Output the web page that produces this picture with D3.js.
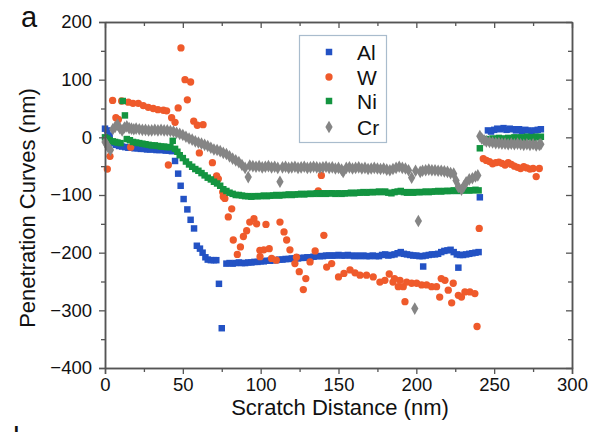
<!DOCTYPE html>
<html><head><meta charset="utf-8">
<script src="https://cdn.jsdelivr.net/npm/d3@7"></script>
<style>
body{margin:0;background:#fff;}
svg{font-family:"Liberation Sans",Arial,Helvetica,sans-serif;}
</style></head>
<body>
<svg id="chart" width="600" height="432"></svg>
<script>
// ---------- data ----------
const xTicks = [0, 50, 100, 150, 200, 250, 300];
const xMinor = [25, 75, 125, 175, 225, 275];
const yTicks = [-400, -300, -200, -100, 0, 100, 200];
const yMinor = [-350, -250, -150, -50, 50, 150];
const seriesNames = ["Al", "W", "Ni", "Cr"];

const alData = [[0,15],[1.5,12],[3,3],[5,-10],[7,-13],[9,-15],[11,-16],[13,-17],[15,-18],[17,-18],[19,-19],[21,-19],[23,-20],[25,-20],[27,-21],[29,-21],[31,-21],[33,-22],[35,-22],[37,-22],[39,-23],[41,-23],[43,-24],[45,-41],[47,-63],[48.6,-84],[50.5,-107],[52.9,-125],[55,-143],[57.2,-158],[59,-188],[61,-193],[62.7,-200],[64.5,-208],[66,-212],[68,-213],[70,-213],[71.5,-213],[73.2,-254],[75,-331],[78,-219],[80,-218],[82,-219],[84,-218],[86,-217],[88,-218],[90,-218],[92,-217],[94,-217],[96,-216],[98,-216],[100,-215],[102,-215],[104,-214],[106,-214],[108,-213],[110,-213],[112,-212],[114,-212],[116,-211],[118,-211],[120,-210],[122,-210],[124,-210],[126,-209],[128,-209],[130,-208],[132,-208],[134,-207],[136,-206],[138,-206],[140,-206],[142,-205],[144,-205],[146,-205],[148,-205],[150,-204],[152,-205],[154,-205],[156,-204],[158,-205],[160,-206],[162,-205],[164,-206],[166,-205],[168,-206],[170,-206],[172,-205],[174,-206],[176,-206],[178,-204],[180,-203],[182,-205],[184,-204],[186,-203],[188,-201],[190,-199],[192,-202],[194,-203],[196,-204],[198,-205],[200,-205],[202,-206],[204,-206],[204.4,-224],[206,-205],[208,-204],[210,-203],[212,-203],[214,-202],[216,-199],[218,-197],[220,-196],[222,-195],[224,-199],[226,-203],[227,-226],[228,-204],[230,-204],[232,-203],[234,-202],[236,-201],[238,-200],[240,-199],[240.8,-104],[246,12],[248,10],[250,13],[252,15],[254,14],[256,16],[258,13],[260,15],[262,14],[264,12],[266,14],[268,11],[270,13],[272,12],[274,10],[276,12],[278,13],[280,14]];

const wData = [[1.5,-55],[3.2,-33],[4.9,64],[7,34],[8.6,31],[10.7,63],[15,61],[16.5,-17],[18,59],[21.4,59],[24.6,55],[27.8,52],[31,50],[34,48],[37.5,47],[39.6,46],[40.7,-48],[42.8,34],[45,26],[47,51],[48.8,155],[51.4,100],[52.9,65],[55,96],[57,28],[59.3,21],[60.6,-27],[63,22],[69,-44],[71.7,-67],[72.8,-72],[75.6,-95],[76,-103],[77,-106],[79.2,-138],[81.4,-124],[82.4,-178],[85,-203],[87,-190],[88.9,-172],[91,-162],[93,-147],[95.7,-141],[97.4,-150],[99.5,-196],[99.6,-207],[102,-195],[103.4,-151],[105.5,-193],[107,-210],[110,-213],[112.4,-147],[115,-164],[116.7,-178],[118.8,-195],[122,-219],[123,-208],[124.8,-233],[127.4,-264],[129,-245],[131.7,-216],[135,-197],[137,-93],[139,-66],[140.6,-170],[142.4,-225],[145.6,-219],[150,-242],[153.5,-236],[157.4,-230],[160.6,-235],[163.8,-239],[168,-239],[172.3,-242],[176.6,-251],[179.8,-248],[182.6,-237],[185,-251],[186,-245],[188.4,-259],[189.5,-248],[191.6,-259],[192.7,-285],[193.8,-251],[197,-253],[200.2,-253],[203.4,-256],[206.6,-256],[209.8,-259],[213,-259],[215,-277],[216,-245],[218.4,-248],[220.5,-265],[222.7,-287],[223.7,-253],[227,-274],[229,-277],[231.2,-268],[234.4,-268],[237.6,-271],[239,-328],[240.4,-158],[243,-37],[245,-40],[247,-42],[249,-46],[251,-44],[253,-43],[255,-45],[257,-48],[259,-44],[261,-47],[263,-50],[265,-52],[267,-54],[269,-51],[271,-53],[273,-55],[275,-54],[277,-68],[279,-54]];

const niData = [[0,0],[1.5,-2],[3,-5],[5,-7],[6.5,-8],[8,-9],[10,-10],[11.4,63],[12.8,38],[14,-3],[16,-5],[18,-8],[20,-9],[22,-10],[24,-11],[26,-12],[28,-13],[30,-14],[32,-14],[34,-15],[36,-16],[38,-16],[40,-17],[42,-17],[43.5,-6],[45,-20],[46.5,-25],[48,-31],[50,-36],[52,-42],[54,-47],[56,-51],[58,-55],[60,-58],[62,-62],[64,-66],[66,-70],[68,-73],[70,-77],[72,-80],[74,-84],[76,-90],[78,-93],[80,-96],[82,-98],[84,-100],[86,-100],[88,-101],[90,-102],[92,-102],[94,-103],[96,-102],[98,-102],[100,-102],[102,-101],[104,-102],[106,-101],[108,-101],[110,-100],[112,-101],[114,-100],[116,-100],[118,-99],[120,-100],[122,-99],[124,-99],[126,-98],[128,-99],[130,-98],[132,-98],[134,-98],[136,-97],[138,-98],[140,-97],[142,-98],[144,-97],[146,-97],[148,-98],[150,-97],[152,-98],[154,-97],[156,-97],[158,-96],[160,-97],[162,-96],[164,-96],[166,-95],[168,-96],[170,-95],[172,-95],[174,-95],[176,-94],[178,-95],[180,-94],[182,-96],[184,-97],[186,-95],[188,-94],[190,-93],[192,-95],[194,-96],[196,-95],[198,-96],[200,-95],[202,-95],[204,-95],[206,-94],[208,-95],[210,-94],[212,-94],[214,-93],[216,-94],[218,-93],[220,-93],[222,-93],[224,-92],[226,-93],[228,-92],[230,-92],[232,-92],[234,-92],[236,-92],[238,-91],[240,-92],[240.8,-19],[245,-3],[247,-5],[249,-2],[251,-3],[253,-1],[255,-2],[257,-3],[259,-1],[261,-2],[263,0],[265,-1],[267,0],[269,-1],[271,1],[273,0],[275,-1],[277,1],[279,0],[280,1]];

const crData = [[0,-8],[1,-12],[2,-17],[3.5,-22],[5,14],[6.5,18],[8,22],[9.5,16],[11,12],[12.5,17],[14,19],[15.5,16],[17,15],[18.5,14],[20,15],[22,14],[24,13],[26,13],[28,12],[30,12],[32,13],[34,12],[36,13],[38,12],[40,12],[42,11],[44,10],[46,8],[48,6],[50,4],[52,1],[54,-2],[56,-4],[58,-7],[60,-9],[62,-11],[64,-13],[66,-15],[68,-18],[70,-21],[72,-22],[74,-24],[76,-27],[78,-29],[80,-33],[82,-37],[84,-40],[86,-43],[88,-48],[90,-53],[92,-69],[93,-49],[95,-50],[97,-51],[99,-50],[101,-52],[103,-51],[105,-50],[107,-52],[109,-51],[111,-53],[112.4,-77],[114,-52],[116,-51],[118,-53],[120,-52],[122,-51],[124,-53],[126,-52],[128,-51],[130,-53],[132,-52],[134,-51],[136,-52],[138,-53],[140,-52],[142,-51],[144,-53],[146,-52],[148,-54],[150,-53],[152,-56],[153,-60],[155,-53],[157,-52],[159,-54],[161,-53],[163,-52],[165,-54],[167,-53],[169,-55],[171,-54],[173,-53],[175,-54],[177,-55],[179,-54],[181,-56],[183,-57],[185,-55],[187,-53],[189,-51],[191,-53],[193,-54],[195,-57],[197,-70],[199,-297],[199.5,-58],[201.3,-145],[202.5,-60],[204,-58],[206,-57],[208,-56],[210,-57],[212,-57],[214,-58],[216,-58],[218,-59],[220,-60],[222,-62],[224,-63],[225.5,-75],[227,-86],[229,-91],[230.5,-85],[232,-78],[234,-73],[236,-71],[238,-68],[239.5,-66],[240.8,2],[242,-2],[243.5,-5],[245,-7],[247,-8],[249,-9],[251,-10],[253,-10],[255,-11],[257,-11],[259,-12],[261,-11],[263,-12],[265,-11],[267,-12],[269,-13],[271,-12],[273,-13],[275,-12],[277,-14],[279,-13],[280,-12]];

// ---------- drawing ----------
const svg = d3.select("#chart");
const x = d3.scaleLinear().domain([0, 300]).range([105, 572]);
const y = d3.scaleLinear().domain([-400, 200]).range([368, 22]);
const axisColor = "#555";

const colors = {Al: "#2352c4", W: "#ef5a2b", Ni: "#139440", Cr: "#858585"};
const symbols = {Al: d3.symbolSquare, W: d3.symbolCircle, Ni: d3.symbolSquare, Cr: d3.symbolDiamond};
const sizes = {Al: 42, W: 42, Ni: 42, Cr: 46};
const dataMap = {Al: alData, W: wData, Ni: niData, Cr: crData};

// points
const plot = svg.append("g");
seriesNames.forEach(name => {
  const sym = d3.symbol().type(symbols[name]).size(sizes[name]);
  plot.append("g").selectAll("path").data(dataMap[name]).join("path")
    .attr("d", sym)
    .attr("transform", d => `translate(${x(d[0])},${y(d[1])})`)
    .attr("fill", colors[name]);
});

// axes
function styleAxis(g) {
  g.selectAll(".domain").attr("stroke", axisColor).attr("stroke-width", 1.5);
  g.selectAll(".tick line").attr("stroke", axisColor).attr("stroke-width", 1.3);
  g.selectAll("text").attr("fill", "#111").style("font-size", "18.5px")
    .style("font-family", "'Liberation Sans', Arial, sans-serif");
}
// bottom
svg.append("g").attr("transform", "translate(0,368)")
  .call(d3.axisBottom(x).tickValues(xTicks).tickSize(6).tickPadding(4).tickFormat(d3.format("d")))
  .call(styleAxis);
svg.append("g").attr("transform", "translate(0,368)")
  .call(d3.axisBottom(x).tickValues(xMinor).tickSize(4).tickSizeOuter(0).tickFormat(""))
  .call(styleAxis);
// top
svg.append("g").attr("transform", "translate(0,22)")
  .call(d3.axisTop(x).tickValues(xTicks).tickSize(-6).tickSizeOuter(0).tickFormat(""))
  .call(styleAxis);
svg.append("g").attr("transform", "translate(0,22)")
  .call(d3.axisTop(x).tickValues(xMinor).tickSize(-4).tickSizeOuter(0).tickFormat(""))
  .call(styleAxis);
// left
svg.append("g").attr("transform", "translate(105,0)")
  .call(d3.axisLeft(y).tickValues(yTicks).tickSize(6).tickPadding(7).tickFormat(d3.format("d")))
  .call(styleAxis);
svg.append("g").attr("transform", "translate(105,0)")
  .call(d3.axisLeft(y).tickValues(yMinor).tickSize(4).tickSizeOuter(0).tickFormat(""))
  .call(styleAxis);
// right
svg.append("g").attr("transform", "translate(572,0)")
  .call(d3.axisRight(y).tickValues(yTicks).tickSize(-6).tickSizeOuter(0).tickFormat(""))
  .call(styleAxis);
svg.append("g").attr("transform", "translate(572,0)")
  .call(d3.axisRight(y).tickValues(yMinor).tickSize(-4).tickSizeOuter(0).tickFormat(""))
  .call(styleAxis);

// titles
svg.append("text").attr("x", 340).attr("y", 415).attr("text-anchor", "middle")
  .style("font-size", "22px").attr("fill", "#111").text("Scratch Distance (nm)");
svg.append("text").attr("transform", "translate(35,208) rotate(-90)").attr("text-anchor", "middle")
  .style("font-size", "22px").attr("fill", "#111").text("Penetration Curves (nm)");

// panel letters
svg.append("text").attr("x", 21).attr("y", 27).style("font-size", "29px").attr("fill", "#111").text("a");
svg.append("text").attr("x", 13).attr("y", 448).style("font-size", "30px").attr("fill", "#111").text("b");

// legend
const lg = svg.append("g");
lg.append("rect").attr("x", 299.5).attr("y", 35.5).attr("width", 87).attr("height", 107)
  .attr("fill", "#fff").attr("stroke", "#a9bccd").attr("stroke-width", 1.2);
const rowY = [52, 77, 101, 127];
seriesNames.forEach((name, i) => {
  lg.append("path").attr("d", d3.symbol().type(symbols[name]).size(sizes[name])())
    .attr("transform", `translate(329,${rowY[i]})`).attr("fill", colors[name]);
  lg.append("text").attr("x", 357).attr("y", rowY[i]).attr("dy", "0.36em")
    .style("font-size", "21px").attr("fill", "#111").text(name);
});
</script>
</body></html>
